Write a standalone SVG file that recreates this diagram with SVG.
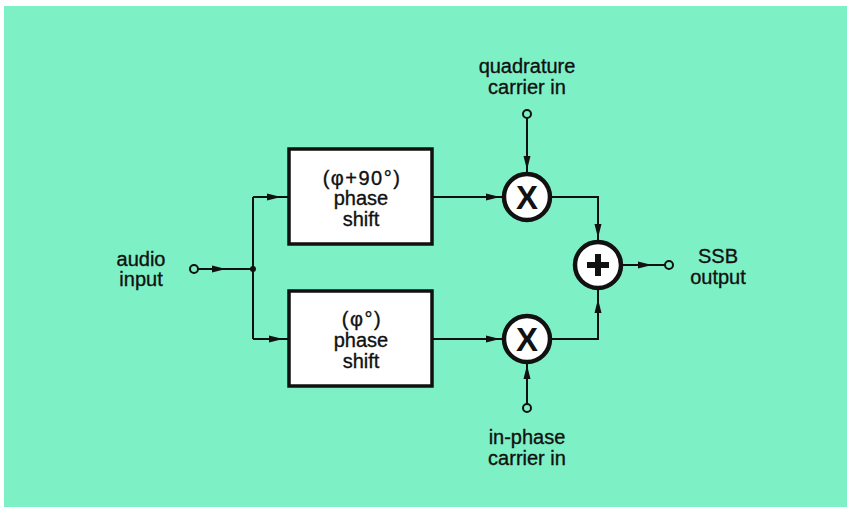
<svg xmlns="http://www.w3.org/2000/svg" width="847" height="507" viewBox="0 0 847 507">
<defs>
<style>
.ln{fill:none;stroke:#111;stroke-width:2}
.box{fill:#fff;stroke:#111;stroke-width:3.5}
.op{fill:#fff;stroke:#111;stroke-width:4.5}
.term{fill:#7ef0c6;stroke:#111;stroke-width:2}
.t{font-family:"Liberation Sans",Arial,sans-serif;font-size:20px;fill:#111;stroke:#111;stroke-width:0.35;text-anchor:middle}
.sp{letter-spacing:1.5px}
.x{font-family:"Liberation Sans",Arial,sans-serif;font-size:33px;font-weight:bold;fill:#111;text-anchor:middle}
</style>
<path id="ah" d="M0,0 L-14,-3.5 L-14,3.5 Z" fill="#111"/>
</defs>
<rect x="0" y="0" width="847" height="507" fill="#ffffff"/>
<rect x="4" y="6" width="843" height="501" fill="#7ef0c6"/>
<g id="connectors">
<path class="ln" d="M198,269 H253"/>
<path class="ln" d="M253,197 V339"/>
<path class="ln" d="M253,197 H289"/>
<path class="ln" d="M253,339 H289"/>
<path class="ln" d="M433,197 H503"/>
<path class="ln" d="M433,339 H503"/>
<path class="ln" d="M527,118 V173"/>
<path class="ln" d="M527,404 V362"/>
<path class="ln" d="M551,197 H598 V241"/>
<path class="ln" d="M551,339 H598 V289"/>
<path class="ln" d="M622,265 H665"/>
<use href="#ah" transform="translate(226,269)"/>
<use href="#ah" transform="translate(281,197)"/>
<use href="#ah" transform="translate(283,339)"/>
<use href="#ah" transform="translate(500,197)"/>
<use href="#ah" transform="translate(500,339)"/>
<use href="#ah" transform="translate(527,170) rotate(90)"/>
<use href="#ah" transform="translate(598,238) rotate(90)"/>
<use href="#ah" transform="translate(598,299) rotate(-90)"/>
<use href="#ah" transform="translate(527,365) rotate(-90)"/>
<use href="#ah" transform="translate(652,265)"/>
<circle cx="253" cy="269" r="3" fill="#111"/>
</g>
<g id="audio-input">
<circle class="term" cx="194" cy="269" r="4"/>
<text class="t" x="141" y="266">audio</text>
<text class="t" x="141" y="286">input</text>
</g>
<g id="phase-shift-90">
<rect class="box" x="289" y="149" width="143" height="95"/>
<text class="t sp" x="362" y="185">(φ+90°)</text>
<text class="t" x="361" y="205">phase</text>
<text class="t" x="361" y="226">shift</text>
</g>
<g id="phase-shift-0">
<rect class="box" x="289" y="291" width="143" height="95"/>
<text class="t sp" x="362" y="326">(φ°)</text>
<text class="t" x="361" y="347">phase</text>
<text class="t" x="361" y="368">shift</text>
</g>
<g id="quadrature-in">
<circle class="term" cx="527" cy="114" r="4"/>
<text class="t" x="527" y="73">quadrature</text>
<text class="t" x="527" y="94">carrier in</text>
</g>
<g id="mult-top">
<circle class="op" cx="527" cy="197" r="23"/>
<text class="x" x="527" y="209">X</text>
</g>
<g id="mult-bottom">
<circle class="op" cx="527" cy="339" r="23"/>
<text class="x" x="527" y="351">X</text>
</g>
<g id="inphase-in">
<circle class="term" cx="527" cy="408" r="4"/>
<text class="t" x="527" y="444">in-phase</text>
<text class="t" x="527" y="465">carrier in</text>
</g>
<g id="sum">
<circle class="op" cx="598" cy="265" r="23"/>
<path d="M587,265 H609 M598,254 V276" stroke="#111" stroke-width="6" fill="none"/>
</g>
<g id="ssb-output">
<circle class="term" cx="669" cy="265" r="4"/>
<text class="t" x="718" y="263">SSB</text>
<text class="t" x="718" y="284">output</text>
</g>
</svg>
